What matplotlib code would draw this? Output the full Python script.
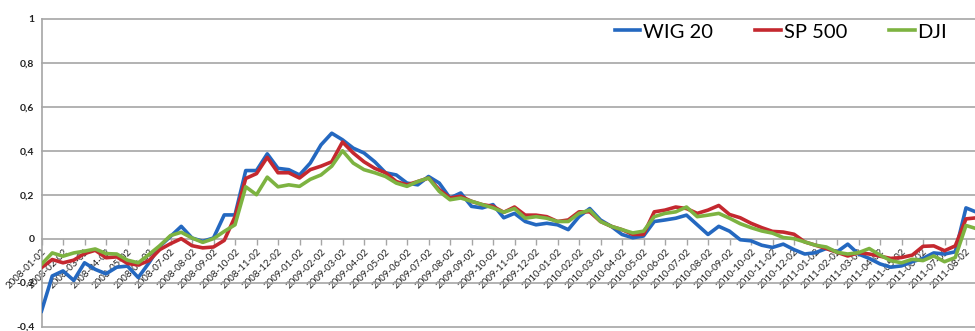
import numpy as np
import matplotlib
matplotlib.use("Agg")
import matplotlib.pyplot as plt
from matplotlib.lines import Line2D

# ---- data (half-month sampling starting 2008-01-02) ----
tick_labels = [f"{y}-{m:02d}-02" for y in range(2008, 2012) for m in range(1, 13)][:44]

wig20 = [-0.33, -0.17, -0.147, -0.19, -0.11, -0.14, -0.16, -0.13, -0.125, -0.177,
         -0.11, -0.035, 0.01, 0.056, 0.003, -0.012, 0.003, 0.108, 0.108, 0.31,
         0.31, 0.386, 0.32, 0.314, 0.29, 0.344, 0.427, 0.48, 0.45, 0.412,
         0.39, 0.35, 0.30, 0.29, 0.253, 0.245, 0.283, 0.253, 0.185, 0.208,
         0.147, 0.14, 0.155, 0.095, 0.115, 0.078, 0.063, 0.07, 0.063, 0.041,
         0.10, 0.137, 0.085, 0.056, 0.019, 0.004, 0.012, 0.078, 0.085, 0.093,
         0.107, 0.063, 0.019, 0.056, 0.034, -0.005, -0.01, -0.03, -0.04, -0.025,
         -0.05, -0.07, -0.064, -0.045, -0.06, -0.025, -0.07, -0.09, -0.115, -0.13,
         -0.124, -0.105, -0.09, -0.065, -0.07, -0.06, 0.14, 0.12]

sp500 = [-0.132, -0.095, -0.11, -0.098, -0.068, -0.053, -0.087, -0.083, -0.113, -0.12,
         -0.10, -0.05, -0.023, 0.0, -0.032, -0.042, -0.038, -0.008, 0.10, 0.274,
         0.296, 0.37, 0.30, 0.30, 0.276, 0.314, 0.33, 0.35, 0.44, 0.39,
         0.35, 0.32, 0.30, 0.26, 0.245, 0.26, 0.276, 0.223, 0.185, 0.193,
         0.17, 0.155, 0.147, 0.12, 0.144, 0.107, 0.107, 0.10, 0.078, 0.085,
         0.122, 0.122, 0.078, 0.056, 0.041, 0.019, 0.019, 0.122, 0.13, 0.144,
         0.137, 0.115, 0.13, 0.151, 0.11, 0.095, 0.07, 0.05, 0.033, 0.03,
         0.02, -0.015, -0.03, -0.045, -0.062, -0.079, -0.064, -0.07, -0.08, -0.09,
         -0.086, -0.075, -0.035, -0.033, -0.055, -0.033, 0.09, 0.095]

dji = [-0.117, -0.065, -0.08, -0.065, -0.057, -0.047, -0.068, -0.07, -0.098, -0.11,
       -0.072, -0.032, 0.014, 0.029, 0.003, -0.017, 0.0, 0.033, 0.063, 0.236,
       0.20, 0.28, 0.236, 0.245, 0.238, 0.27, 0.29, 0.33, 0.40, 0.344,
       0.314, 0.30, 0.283, 0.253, 0.238, 0.26, 0.276, 0.215, 0.177, 0.185,
       0.17, 0.155, 0.14, 0.12, 0.137, 0.093, 0.10, 0.093, 0.078, 0.078,
       0.115, 0.13, 0.078, 0.056, 0.041, 0.026, 0.034, 0.10, 0.115, 0.122,
       0.144, 0.10, 0.107, 0.115, 0.093, 0.068, 0.05, 0.035, 0.025, 0.005,
       0.0, -0.015, -0.03, -0.038, -0.062, -0.07, -0.064, -0.045, -0.075, -0.10,
       -0.11, -0.094, -0.10, -0.079, -0.105, -0.086, 0.06, 0.045]

series_names = ["WIG 20", "SP 500", "DJI"]
y_ticks = [-0.4, -0.2, 0, 0.2, 0.4, 0.6, 0.8, 1]

# ---- styling ----
colors = ["#2468c0", "#c4282f", "#7db341"]
grid_col = "#a6a6a6"
plt.rcParams['font.family'] = ['Lato', 'DejaVu Sans']

fig = plt.figure(figsize=(9.75, 3.31), dpi=100)
ax = fig.add_axes([41.5 / 975, 4.5 / 331, 1 - 41.5 / 975, (326.5 - 19) / 331])

x = np.arange(len(wig20)) * 0.5
for vals, c, name in zip([wig20, sp500, dji], colors, series_names):
    ax.plot(x, vals, color=c, lw=2.6, zorder=3, label=name, solid_joinstyle='round')

ax.set_ylim(-0.4, 1.0)
ax.set_xlim(0, (975 - 41.5) / 21.5)

for yv in y_ticks:
    if yv != 0:
        ax.axhline(yv, color=grid_col, lw=1.2, zorder=1, clip_on=False)

# spines first (set_position resets tick properties)
for s in ['top', 'right']:
    ax.spines[s].set_visible(False)
ax.spines['bottom'].set_position(('data', 0))
ax.spines['bottom'].set_color(grid_col)
ax.spines['bottom'].set_linewidth(1.2)
ax.spines['left'].set_color(grid_col)
ax.spines['left'].set_linewidth(1.2)
ax.set_axisbelow(True)

ax.set_yticks(y_ticks)
ax.set_yticklabels([("%g" % v).replace(".", ",") for v in y_ticks],
                   fontsize=7.5, fontweight='bold', color='#222222')
ax.tick_params(axis='y', length=0, pad=5)

ax.set_xticks(np.arange(len(tick_labels)))
ax.set_xticklabels(tick_labels, rotation=45, ha='right', va='top',
                   rotation_mode='anchor', fontsize=7, color='#222222')
ax.tick_params(axis='x', direction='out', length=4, width=1, color=grid_col, pad=2)

handles = [Line2D([], [], color=c, lw=2.6) for c in colors]
fig.legend(handles, series_names, loc='center left',
           bbox_to_anchor=(615 / 975, 1 - 32 / 331), ncol=3, frameon=False,
           fontsize=14.5, handlelength=1.25, handletextpad=0.15, columnspacing=2.1,
           borderpad=0, borderaxespad=0)

fig.savefig("out.png", dpi=100)
